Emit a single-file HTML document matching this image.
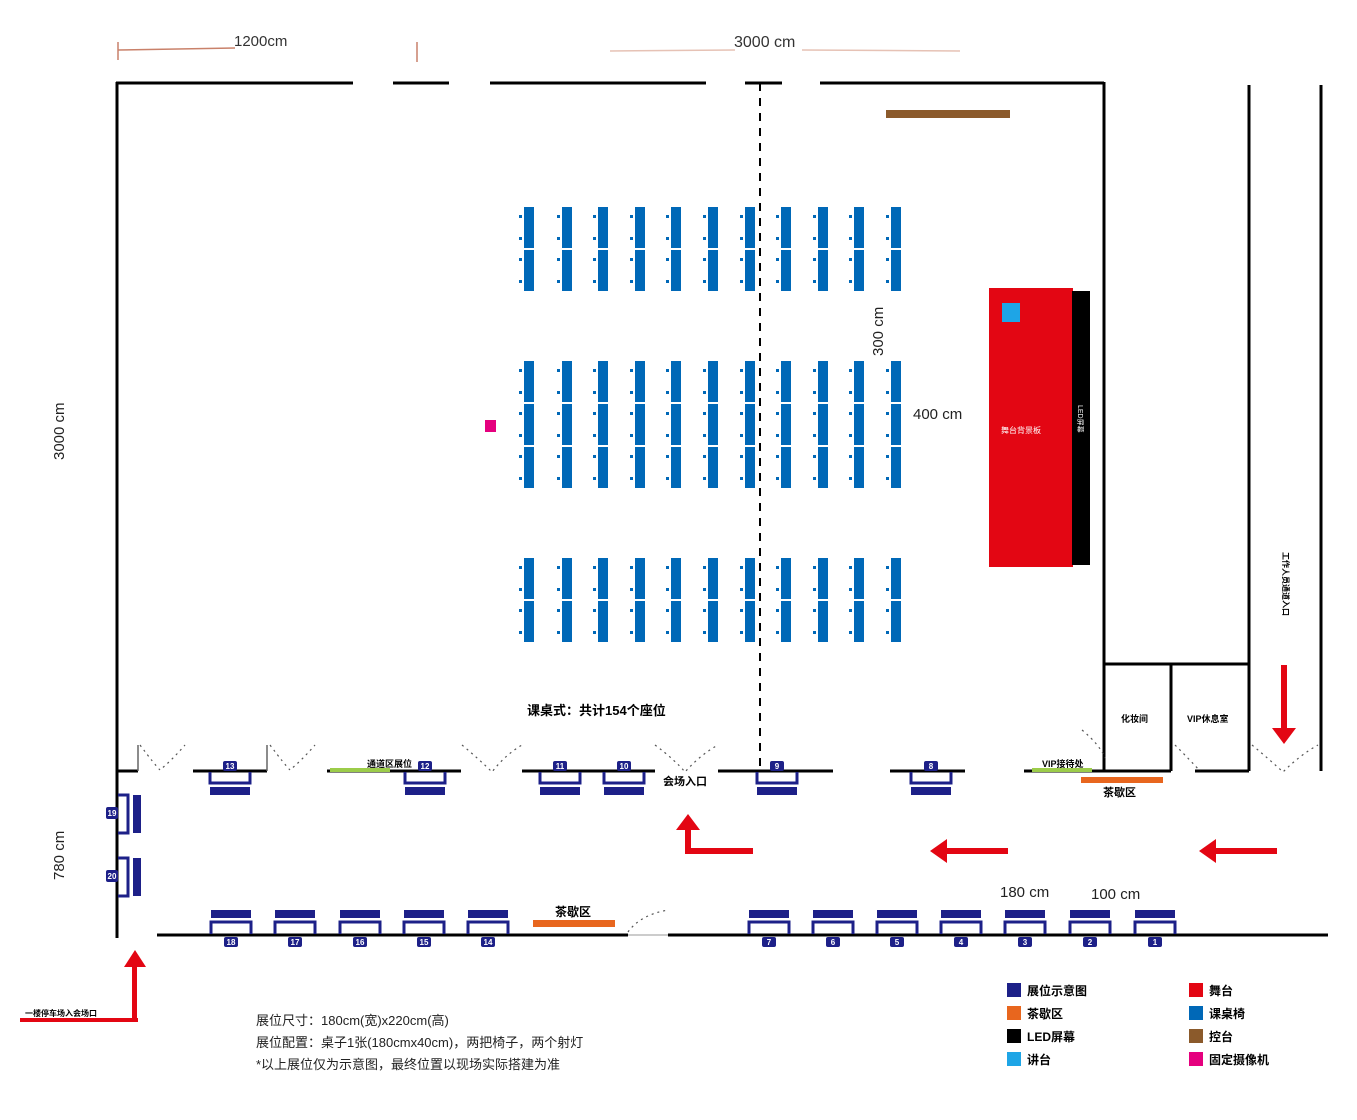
<!DOCTYPE html>
<html><head><meta charset="utf-8"><style>
html,body{margin:0;padding:0;background:#fff;}
svg{display:block;font-family:"Liberation Sans","Noto Sans CJK SC",sans-serif;}
</style></head><body>
<svg id="s" width="1357" height="1120" viewBox="0 0 1357 1120" xmlns="http://www.w3.org/2000/svg">
<rect width="1357" height="1120" fill="#fff"/>
<line x1="118" y1="50" x2="235" y2="48" stroke="#c9816a" stroke-width="1.5"/>
<line x1="118" y1="42" x2="118" y2="60" stroke="#c9816a" stroke-width="1.5"/>
<text x="234" y="46" font-size="15" fill="#333">1200cm</text>
<line x1="417" y1="42" x2="417" y2="62" stroke="#c9816a" stroke-width="1.5"/>
<line x1="610" y1="51" x2="735" y2="50" stroke="#e6c2b5" stroke-width="1.5"/>
<line x1="802" y1="50" x2="960" y2="51" stroke="#e6c2b5" stroke-width="1.5"/>
<text x="734" y="47" font-size="16" fill="#333">3000 cm</text>
<text x="64" y="460" font-size="15" fill="#222" transform="rotate(-90 64 460)">3000 cm</text>
<text x="64" y="880" font-size="15" fill="#222" transform="rotate(-90 64 880)">780 cm</text>
<text x="883" y="356" font-size="15" fill="#222" transform="rotate(-90 883 356)">300 cm</text>
<text x="913" y="419" font-size="15" fill="#222">400 cm</text>
<text x="1000" y="897" font-size="15" fill="#222">180 cm</text>
<text x="1091" y="899" font-size="15" fill="#222">100 cm</text>
<g stroke="#000" stroke-width="3" fill="none">
<line x1="116" y1="83" x2="353" y2="83"/><line x1="393" y1="83" x2="449" y2="83"/>
<line x1="490" y1="83" x2="706" y2="83"/><line x1="745" y1="83" x2="782" y2="83"/>
<line x1="820" y1="83" x2="1104" y2="83"/>
<line x1="117" y1="82" x2="117" y2="938"/>
<line x1="1104" y1="82" x2="1104" y2="771"/>
<line x1="1249" y1="85" x2="1249" y2="771"/>
<line x1="1321" y1="85" x2="1321" y2="771"/>
<line x1="1104" y1="664" x2="1249" y2="664"/>
<line x1="1171" y1="664" x2="1171" y2="771"/>
<line x1="1171" y1="771" x2="1104" y2="771"/>
<line x1="1195" y1="771" x2="1249" y2="771"/>
<line x1="117" y1="771" x2="138" y2="771"/><line x1="193" y1="771" x2="267" y2="771"/>
<line x1="327" y1="771" x2="461" y2="771"/><line x1="522" y1="771" x2="655" y2="771"/>
<line x1="718" y1="771" x2="833" y2="771"/><line x1="890" y1="771" x2="965" y2="771"/>
<line x1="1024" y1="771" x2="1104" y2="771"/>
<line x1="138" y1="745" x2="138" y2="771" stroke-width="1.5" stroke="#666"/>
<line x1="267" y1="745" x2="267" y2="771" stroke-width="1.5" stroke="#666"/>
<line x1="157" y1="935" x2="628" y2="935"/><line x1="668" y1="935" x2="1328" y2="935"/>
</g>
<line x1="628" y1="935" x2="668" y2="935" stroke="#999" stroke-width="1"/>
<line x1="760" y1="83" x2="760" y2="771" stroke="#000" stroke-width="2" stroke-dasharray="8,7"/>
<g fill="none" stroke="#555" stroke-width="1.2" stroke-dasharray="2,4">
<path d="M140 745 Q155 765 160 770 Q172 760 185 745"/>
<path d="M270 745 Q285 765 290 770 Q302 760 315 745"/>
<path d="M462 745 Q480 760 492 772 Q505 755 522 745"/>
<path d="M655 745 Q675 760 685 772 Q700 755 718 745"/>
<path d="M1082 730 Q1100 745 1105 758"/>
<path d="M1175 745 Q1190 760 1200 771"/>
<path d="M1252 745 Q1270 760 1283 772 Q1300 755 1318 745"/>
<path d="M628 932 Q640 915 668 910"/>
</g>
<rect x="886" y="110" width="124" height="8" fill="#8b5a2b"/>
<rect x="989" y="288" width="84" height="279" fill="#e30613"/>
<rect x="1072" y="291" width="18" height="274" fill="#000"/>
<rect x="1002" y="303" width="18" height="19" fill="#1ea5e6"/>
<text x="1001" y="433" font-size="8" fill="#fff">舞台背景板</text>
<text x="1078" y="405" font-size="7" fill="#fff" transform="rotate(90 1078 405)">LED屏幕</text>
<rect x="485" y="420" width="11" height="12" fill="#e5007e"/>
<g id="seats"></g>
<g id="booths"></g>
<rect x="330" y="768" width="60" height="4" fill="#9ccc4a"/>
<text x="367" y="767" font-size="9" font-weight="bold">通道区展位</text>
<rect x="1032" y="768" width="60" height="4" fill="#9ccc4a"/>
<text x="1042" y="767" font-size="9" font-weight="bold">VIP接待处</text>
<rect x="1081" y="777" width="82" height="6" fill="#e8661e"/>
<text x="1103" y="796" font-size="11" font-weight="bold">茶歇区</text>
<rect x="533" y="920" width="82" height="7" fill="#e8661e"/>
<text x="555" y="916" font-size="12" font-weight="bold">茶歇区</text>
<text x="1121" y="722" font-size="9" font-weight="bold">化妆间</text>
<text x="1187" y="722" font-size="9" font-weight="bold">VIP休息室</text>
<text x="663" y="785" font-size="11" font-weight="bold">会场入口</text>
<text x="527" y="715" font-size="13" font-weight="bold">课桌式：共计154个座位</text>
<text x="1283" y="552" font-size="8" font-weight="bold" transform="rotate(90 1283 552)">工作人员通道入口</text>
<g fill="#e30613" stroke="none">
<rect x="1281" y="665" width="6" height="65"/><polygon points="1272,728 1296,728 1284,744"/>
<rect x="1215" y="848" width="62" height="6"/><polygon points="1216,839 1216,863 1199,851"/>
<rect x="946" y="848" width="62" height="6"/><polygon points="947,839 947,863 930,851"/>
<rect x="685" y="848" width="68" height="6"/><rect x="685" y="828" width="6" height="26"/><polygon points="676,830 700,830 688,814"/>
<rect x="20" y="1018" width="118" height="4"/><rect x="132" y="965" width="5" height="57"/><polygon points="124,967 146,967 135,950"/>
</g>
<text x="25" y="1016" font-size="8" font-weight="bold">一楼停车场入会场口</text>
<text x="256" y="1025" font-size="13" fill="#222">展位尺寸：180cm(宽)x220cm(高)</text>
<text x="256" y="1047" font-size="13" fill="#222">展位配置：桌子1张(180cmx40cm)，两把椅子，两个射灯</text>
<text x="256" y="1069" font-size="13" fill="#222">*以上展位仅为示意图，最终位置以现场实际搭建为准</text>
<g font-size="12" font-weight="bold">
<rect x="1007" y="983" width="14" height="14" fill="#1d2088"/><text x="1027" y="995">展位示意图</text>
<rect x="1007" y="1006" width="14" height="14" fill="#e8661e"/><text x="1027" y="1018">茶歇区</text>
<rect x="1007" y="1029" width="14" height="14" fill="#000"/><text x="1027" y="1041">LED屏幕</text>
<rect x="1007" y="1052" width="14" height="14" fill="#1ea5e6"/><text x="1027" y="1064">讲台</text>
<rect x="1189" y="983" width="14" height="14" fill="#e30613"/><text x="1209" y="995">舞台</text>
<rect x="1189" y="1006" width="14" height="14" fill="#0068b7"/><text x="1209" y="1018">课桌椅</text>
<rect x="1189" y="1029" width="14" height="14" fill="#8b5a2b"/><text x="1209" y="1041">控台</text>
<rect x="1189" y="1052" width="14" height="14" fill="#e5007e"/><text x="1209" y="1064">固定摄像机</text>
</g>
</svg>
<script>
(function(){
var NS="http://www.w3.org/2000/svg";
function el(p,t,a,txt){var e=document.createElementNS(NS,t);for(var k in a)e.setAttribute(k,a[k]);if(txt!=null)e.textContent=txt;p.appendChild(e);return e;}
var S=document.getElementById("seats");
var xs=[524,562,598,635,671,708,745,781,818,854,891];
var groups=[[207,2],[361,3],[558,2]];
xs.forEach(function(x){groups.forEach(function(g){for(var i=0;i<g[1];i++){var y=g[0]+i*43;
el(S,"rect",{x:x,y:y,width:10,height:41,fill:"#0068b7"});
el(S,"rect",{x:x-5,y:y+8,width:3,height:3,fill:"#0068b7"});
el(S,"rect",{x:x-5,y:y+30,width:3,height:3,fill:"#0068b7"});}})});
var B=document.getElementById("booths");
var C="#1d2088";
function boothTop(cx,n){var x=cx-20;
el(B,"rect",{x:cx-7,y:761,width:14,height:10,fill:C,rx:2});
el(B,"text",{x:cx,y:769,"font-size":8,fill:"#fff","text-anchor":"middle","font-weight":"bold"},n);
el(B,"path",{d:"M"+x+" 772 V783 H"+(x+40)+" V772",fill:"none",stroke:C,"stroke-width":3});
el(B,"rect",{x:x,y:787,width:40,height:8,fill:C});}
function boothBot(cx,n){var x=cx-20;
el(B,"rect",{x:x,y:910,width:40,height:8,fill:C});
el(B,"path",{d:"M"+x+" 934 V922 H"+(x+40)+" V934",fill:"none",stroke:C,"stroke-width":3});
el(B,"rect",{x:cx-7,y:937,width:14,height:10,fill:C,rx:2});
el(B,"text",{x:cx,y:945,"font-size":8,fill:"#fff","text-anchor":"middle","font-weight":"bold"},n);}
[[230,"13"],[425,"12"],[560,"11"],[624,"10"],[777,"9"],[931,"8"]].forEach(function(a){boothTop(a[0],a[1]);});
[[231,"18"],[295,"17"],[360,"16"],[424,"15"],[488,"14"],[769,"7"],[833,"6"],[897,"5"],[961,"4"],[1025,"3"],[1090,"2"],[1155,"1"]].forEach(function(a){boothBot(a[0],a[1]);});
function boothSide(y,n){
el(B,"path",{d:"M118 "+y+" H128 V"+(y+38)+" H118",fill:"none",stroke:C,"stroke-width":3});
el(B,"rect",{x:133,y:y,width:8,height:38,fill:C});
el(B,"rect",{x:106,y:y+12,width:12,height:12,fill:C,rx:2});
el(B,"text",{x:112,y:y+21,"font-size":8,fill:"#fff","text-anchor":"middle","font-weight":"bold"},n);}
boothSide(795,"19");boothSide(858,"20");
})();
</script>
</body></html>
